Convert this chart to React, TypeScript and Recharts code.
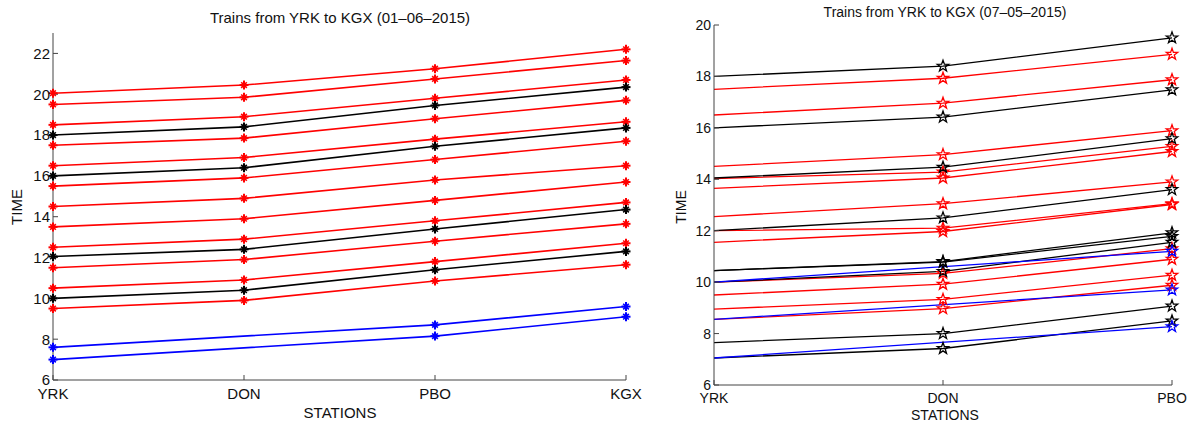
import { LineChart, Line, XAxis, YAxis } from 'recharts';

// 01-06-2015 timetable (left chart)
const stationsJun = ['YRK', 'DON', 'PBO', 'KGX'];
const redJun = [
  [20.05, 20.45, 21.25, 22.2],
  [19.5, 19.85, 20.75, 21.65],
  [18.5, 18.9, 19.8, 20.7],
  [17.5, 17.85, 18.8, 19.7],
  [16.5, 16.9, 17.8, 18.65],
  [15.5, 15.9, 16.8, 17.7],
  [14.5, 14.9, 15.8, 16.5],
  [13.5, 13.9, 14.8, 15.7],
  [12.5, 12.9, 13.8, 14.7],
  [11.5, 11.9, 12.8, 13.65],
  [10.5, 10.9, 11.8, 12.7],
  [9.5, 9.9, 10.85, 11.65],
];
const blackJun = [
  [18, 18.4, 19.45, 20.35],
  [16, 16.4, 17.45, 18.35],
  [12.05, 12.4, 13.4, 14.35],
  [10, 10.4, 11.4, 12.3],
];
// blue trains do not stop at DON
const blueJun = [
  [7.6, null, 8.7, 9.6],
  [7.0, null, 8.15, 9.1],
];
const timeTicksJun = [6, 8, 10, 12, 14, 16, 18, 20, 22];

// 07-05-2015 timetable (right chart)
const stationsMay = ['YRK', 'DON', 'PBO'];
const redMay = [
  [17.5, 17.93, 18.86],
  [16.5, 16.96, 17.87],
  [14.5, 14.96, 15.89],
  [14.03, 14.28, 15.28],
  [13.65, 14.05, 15.08],
  [12.55, 13.05, 13.9],
  [12.0, 12.1, 13.05],
  [11.55, 11.97, 13.02],
  [10.0, 10.34, 11.3],
  [9.5, 9.92, 10.89],
  [8.95, 9.33, 10.27],
  [8.55, 8.97, 9.88],
];
const blackMay = [
  [18, 18.4, 19.5],
  [16, 16.42, 17.48],
  [14.05, 14.47, 15.58],
  [12, 12.5, 13.6],
  [10.45, 10.8, 11.92],
  [10.45, 10.78, 11.78],
  [10.0, 10.42, 11.55],
  [7.65, 8.0, 9.07],
  [7.05, 7.42, 8.49],
];
const blueMay = [
  [10.0, null, 11.2],
  [8.55, null, 9.7],
  [7.05, null, 8.27],
];
const timeTicksMay = [6, 8, 10, 12, 14, 16, 18, 20];

const FONT = '"Liberation Sans", Arial, sans-serif';
const AXIS = '#444';

type Group = [string, string, (number | null)[][]];

const buildRows = (stations: string[], groups: Group[]) =>
  stations.map((s, i) => {
    const row: any = { station: s };
    groups.forEach(([key, , list]) => {
      list.forEach((t, j) => {
        row[`${key}${j}`] = t[i];
      });
    });
    return row;
  });

const asteriskDot = (color: string) => (props: any) => {
  const { cx, cy, index, value } = props;
  if (cx == null || cy == null || value == null) return <g key={`a-${index}`} />;
  return (
    <g key={`a-${index}`} stroke={color}>
      <line x1={cx - 4.5} y1={cy} x2={cx + 4.5} y2={cy} strokeWidth={2} />
      <line x1={cx} y1={cy - 4.5} x2={cx} y2={cy + 4.5} strokeWidth={2} />
      <line x1={cx - 2.8} y1={cy - 2.8} x2={cx + 2.8} y2={cy + 2.8} strokeWidth={1.6} />
      <line x1={cx - 2.8} y1={cy + 2.8} x2={cx + 2.8} y2={cy - 2.8} strokeWidth={1.6} />
    </g>
  );
};

const starDot = (color: string) => (props: any) => {
  const { cx, cy, index, value } = props;
  if (cx == null || cy == null || value == null || index === 0) return <g key={`s-${index}`} />;
  const R = 6;
  const pts = [];
  for (let k = 0; k < 10; k++) {
    const a = (-90 + k * 36) * (Math.PI / 180);
    const r = k % 2 === 0 ? R : R * 0.4;
    pts.push(`${(cx + r * Math.cos(a)).toFixed(2)},${(cy + r * Math.sin(a)).toFixed(2)}`);
  }
  return <polygon key={`s-${index}`} points={pts.join(' ')} fill="none" stroke={color} strokeWidth={1.3} />;
};

const Label = ({ x, y, text, size, rotate }: { x: number; y: number; text: string; size: number; rotate?: boolean }) => (
  <div
    style={{
      position: 'absolute',
      left: x,
      top: y,
      transform: `translate(-50%, -50%)${rotate ? ' rotate(-90deg)' : ''}`,
      fontFamily: FONT,
      fontSize: size,
      lineHeight: 1,
      whiteSpace: 'nowrap',
      color: '#111',
    }}
  >
    {text}
  </div>
);

const groupsJun: Group[] = [
  ['r', '#ff0000', redJun],
  ['k', '#000000', blackJun],
  ['b', '#0000ff', blueJun],
];
const groupsMay: Group[] = [
  ['r', '#ff0000', redMay],
  ['k', '#000000', blackMay],
  ['b', '#0000ff', blueMay],
];

const rowsJun = buildRows(stationsJun, groupsJun);
const rowsMay = buildRows(stationsMay, groupsMay);

export default function App() {
  return (
    <div style={{ position: 'absolute', left: 0, top: 0, width: 1190, height: 426, background: '#fff' }}>
      <div style={{ position: 'absolute', left: 0, top: 0 }}>
        <LineChart width={660} height={426} data={rowsJun} margin={{ top: 33, right: 34, bottom: 0, left: 0 }}>
          <XAxis
            dataKey="station"
            scale="point"
            interval={0}
            height={46}
            tickSize={-5}
            tickMargin={13}
            axisLine={{ stroke: AXIS }}
            tickLine={{ stroke: AXIS }}
            tick={{ fontSize: 15, fill: '#111', fontFamily: FONT }}
          />
          <YAxis
            type="number"
            domain={[6, 23]}
            ticks={timeTicksJun}
            interval={0}
            width={53}
            tickSize={-5}
            tickMargin={8}
            axisLine={{ stroke: AXIS }}
            tickLine={{ stroke: AXIS }}
            tick={{ fontSize: 15, fill: '#111', fontFamily: FONT }}
          />
          {groupsJun.map(([key, color, list]) =>
            list.map((_, j) => (
              <Line
                key={`${key}${j}`}
                type="linear"
                dataKey={`${key}${j}`}
                stroke={color}
                strokeWidth={1.6}
                dot={asteriskDot(color)}
                activeDot={false}
                connectNulls
                isAnimationActive={false}
              />
            ))
          )}
        </LineChart>
        <Label x={340} y={17} text="Trains from YRK to KGX (01–06–2015)" size={15} />
        <Label x={340} y={412} text="STATIONS" size={15} />
        <Label x={16} y={207} text="TIME" size={15} rotate />
      </div>
      <div style={{ position: 'absolute', left: 640, top: 0, width: 550, height: 426 }}>
        <LineChart width={550} height={426} data={rowsMay} margin={{ top: 25, right: 18, bottom: 0, left: 0 }}>
          <XAxis
            dataKey="station"
            scale="point"
            interval={0}
            height={41}
            tickSize={-5}
            tickMargin={13}
            axisLine={{ stroke: AXIS }}
            tickLine={{ stroke: AXIS }}
            tick={{ fontSize: 14, fill: '#111', fontFamily: FONT }}
          />
          <YAxis
            type="number"
            domain={[6, 20]}
            ticks={timeTicksMay}
            interval={0}
            width={74}
            tickSize={-5}
            tickMargin={8}
            axisLine={{ stroke: AXIS }}
            tickLine={{ stroke: AXIS }}
            tick={{ fontSize: 14, fill: '#111', fontFamily: FONT }}
          />
          {groupsMay.map(([key, color, list]) =>
            list.map((_, j) => (
              <Line
                key={`${key}${j}`}
                type="linear"
                dataKey={`${key}${j}`}
                stroke={color}
                strokeWidth={1.3}
                dot={starDot(color)}
                activeDot={false}
                connectNulls
                isAnimationActive={false}
              />
            ))
          )}
        </LineChart>
        <Label x={305} y={12} text="Trains from YRK to KGX (07–05–2015)" size={14} />
        <Label x={305} y={415} text="STATIONS" size={14} />
        <Label x={41} y={207} text="TIME" size={14} rotate />
      </div>
    </div>
  );
}
